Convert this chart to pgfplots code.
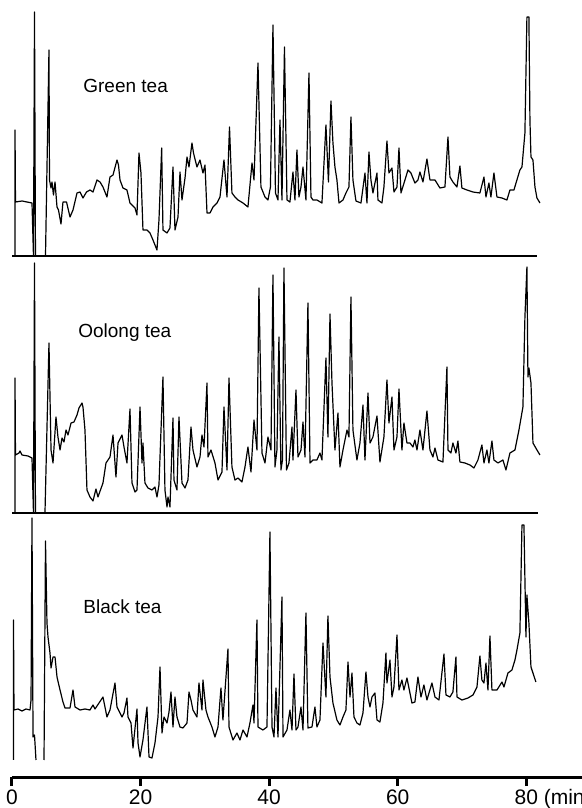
\documentclass[border=0pt]{standalone}
\usepackage{fontspec}
\setmainfont{Liberation Sans}
\usepackage{pgfplots}
\pgfplotsset{compat=1.18}

% three stacked chromatograms, detector response in arbitrary units
\pgfplotsset{
  chrom/.style={scale only axis, width=286.1pt, xmin=0, xmax=89,
    ymin=0, clip=false, anchor=south west},
  trace/.style={black, line width=0.6pt, line join=round, mark=none},
  base/.style={black, line width=1pt, mark=none},
}
\tikzset{lbl/.style={anchor=west, inner sep=0pt, font=\fontsize{9.5}{11}\selectfont}}

\begin{document}
\begin{tikzpicture}
\path[use as bounding box] (0,0) rectangle (291pt,404pt);

% ---------------- Green tea ----------------
\begin{axis}[chrom, hide axis, at={(6pt,276pt)}, height=128pt, ymax=256]
\addplot[base] coordinates {(0,0) (81.7,0)};
\addplot[trace] coordinates {
(0.47,0) (0.47,126) (0.54,54) (1.56,55) (3.11,53) (3.34,0) (3.50,244) (3.65,0)
(5.21,0) (5.75,206) (5.83,76) (6.07,68) (6.22,74) (6.45,61) (6.69,74) (7.00,49)
(7.23,46) (7.62,32) (7.93,54) (8.48,54) (9.02,39) (9.49,46) (10.11,63) (10.58,64)
(11.04,58) (11.59,64) (12.13,66) (12.6,64) (13.22,76) (13.69,74) (14.15,69) (14.77,59)
(15.24,79) (15.71,81) (16.33,96) (16.56,91) (16.80,76) (17.26,68) (17.88,66) (18.35,53)
(19.13,48) (19.44,41) (19.75,103) (20.06,83) (20.37,26) (20.99,26) (21.46,23) (21.93,16)
(22.55,6) (22.86,36) (23.28,108) (23.48,26) (24.11,23) (24.57,28) (25.04,89) (25.35,26)
(25.82,39) (26.13,84) (26.44,56) (26.91,78) (27.22,99) (27.53,89) (27.99,113) (28.23,103)
(28.77,89) (29.24,96) (29.70,83) (30.02,91) (30.33,43) (30.79,43) (31.26,49) (31.88,53)
(32.35,59) (32.97,96) (33.44,59) (33.83,129) (34.21,63) (34.68,59) (35.15,56) (35.93,53)
(36.70,49) (37.33,93) (37.64,76) (38.26,193) (38.72,69) (39.35,59) (39.81,56) (40.20,69)
(40.59,231) (40.98,63) (41.37,56) (41.68,136) (41.99,56) (42.38,209) (42.77,56) (43.23,54)
(43.70,84) (44.01,56) (44.32,106) (44.63,59) (44.95,69) (45.26,89) (45.72,56) (46.19,183)
(46.50,59) (46.81,56) (47.43,56) (48.21,53) (48.83,131) (49.22,74) (49.61,155) (49.92,113)
(50.23,89) (50.54,76) (50.86,53) (51.48,56) (51.94,63) (52.41,69) (52.72,139) (53.03,76)
(53.50,55) (54.28,53) (54.90,83) (55.21,53) (55.52,104) (55.83,76) (56.14,63) (56.77,83)
(56.92,56) (57.54,53) (57.85,69) (58.32,115) (58.63,83) (59.10,88) (59.41,64) (59.88,69)
(60.19,108) (60.50,63) (61.12,76) (61.59,86) (62.05,83) (62.67,73) (63.14,76) (63.45,84)
(63.92,74) (64.54,97) (65.01,76) (65.79,76) (66.56,68) (67.34,69) (67.81,119) (68.12,79)
(68.58,74) (69.21,69) (69.67,90) (69.98,68) (70.76,66) (71.69,64) (72.78,63) (73.41,79)
(73.72,59) (74.18,73) (74.49,59) (74.96,83) (75.43,59) (76.21,58) (76.98,56) (77.45,66)
(78.07,66) (79.00,86) (79.32,89) (79.78,123) (80.09,239) (80.40,239) (80.56,136) (80.72,99)
(81.03,96) (81.34,69) (81.65,58) (82.12,53)
};
\node[lbl] at (axis cs:11.04,170) {Green tea};
\end{axis}

% ---------------- Oolong tea ----------------
\begin{axis}[chrom, hide axis, at={(6pt,147.5pt)}, height=126pt, ymax=252]
\addplot[base] coordinates {(0,0) (81.8,0)};
\addplot[trace] coordinates {
(0.47,0) (0.47,135) (0.54,58) (1.09,60) (1.24,62) (1.56,58) (2.49,57) (3.11,55)
(3.34,0) (3.50,250) (3.65,0) (5.13,0) (5.75,170) (6.07,63) (6.38,50) (6.84,96)
(7.15,76) (7.47,63) (7.78,75) (8.09,71) (8.40,83) (8.71,78) (9.18,90) (9.64,91)
(10.11,98) (10.42,105) (10.89,110) (11.04,106) (11.35,83) (11.66,23) (12.13,16) (12.60,12)
(13.06,24) (13.37,16) (14.15,30) (14.62,50) (15.24,56) (15.71,78) (16.17,36) (16.49,70)
(17.11,78) (17.42,66) (17.88,50) (18.35,104) (18.66,30) (19.13,21) (19.44,23) (19.91,106)
(20.22,50) (20.37,70) (20.68,30) (21.15,25) (21.77,23) (22.24,26) (22.55,16) (22.86,28)
(23.48,136) (23.79,23) (24.11,6) (24.26,16) (24.57,6) (25.04,95) (25.19,33) (25.66,23)
(25.97,96) (26.44,30) (26.91,25) (27.37,33) (27.84,86) (28.15,63) (28.77,46) (29.24,56)
(29.55,78) (29.86,66) (30.33,130) (30.48,56) (30.95,63) (31.57,50) (32.04,33) (32.66,41)
(32.97,106) (33.44,43) (33.75,135) (34.21,46) (34.68,33) (35.15,35) (35.77,31) (36.24,46)
(36.70,66) (37.17,41) (37.64,93) (38.10,63) (38.41,225) (38.88,60) (39.35,50) (39.81,76)
(40.28,63) (40.59,238) (40.90,46) (41.21,63) (41.52,176) (41.83,43) (42.07,53) (42.30,245)
(42.69,43) (43.08,50) (43.55,86) (43.70,53) (44.17,123) (44.48,56) (44.95,63) (45.26,91)
(45.57,56) (46.03,210) (46.35,50) (46.81,53) (47.43,53) (47.90,60) (48.21,53) (48.83,155)
(49.14,76) (49.46,199) (49.77,130) (50.23,63) (50.70,100) (51.01,46) (51.48,63) (52.10,83)
(52.41,76) (52.72,216) (53.03,83) (53.65,53) (54.12,70) (54.59,108) (54.90,53) (55.37,120)
(55.68,70) (56.14,76) (56.77,97) (57.23,51) (57.85,76) (58.32,133) (58.63,90) (59.10,116)
(59.41,63) (59.88,76) (60.19,124) (60.65,63) (60.96,90) (61.43,70) (61.90,70) (62.36,66)
(62.67,73) (62.99,63) (63.45,83) (63.92,63) (64.54,102) (65.01,63) (65.47,56) (65.79,65)
(66.25,53) (67.03,51) (67.65,146) (67.81,63) (68.27,60) (68.58,70) (69.05,60) (69.36,72)
(69.67,51) (70.45,50) (71.23,48) (71.85,45) (72.47,53) (73.09,68) (73.41,50) (73.87,63)
(74.18,50) (74.65,72) (74.96,53) (75.58,50) (76.36,53) (76.83,43) (77.45,60) (78.23,63)
(78.85,83) (79.47,106) (79.78,196) (80.09,246) (80.25,136) (80.40,145) (80.72,130) (81.03,70)
(81.65,63) (82.12,58)
};
\node[lbl] at (axis cs:10.26,180) {Oolong tea};
\end{axis}

% ---------------- Black tea ----------------
\begin{axis}[chrom, at={(6pt,15.5pt)}, height=131pt, ymax=262,
  axis x line=bottom, hide y axis,
  x axis line style={-, line width=1.5pt},
  xtick={0,20,40,60,80}, xticklabels={0,20,40,60,80\rlap{\ (min)}},
  tick align=outside, major tick length=4.5pt,
  tick style={black, line width=1.5pt},
  xticklabel style={font=\fontsize{10.5}{12}\selectfont, inner sep=1.5pt},
  /pgf/number format/assume math mode=true,
  unbounded coords=jump]
\addplot[trace] coordinates {
(0.23,17) (0.23,157) (0.31,67) (0.93,68) (1.56,66) (2.18,68) (2.80,67) (2.96,77)
(3.11,259) (3.27,40) (3.50,42) (3.73,17) (3.8,nan)
(4.98,17) (5.21,236) (5.44,154) (5.60,140) (5.91,124) (6.07,109) (6.38,120) (6.69,120)
(7.00,100) (7.47,87) (7.93,75) (8.24,69) (9.02,69) (9.49,87) (9.80,70) (10.58,67)
(11.35,68) (12.13,67) (12.60,72) (12.91,68) (13.53,74) (14.15,80) (14.77,60) (15.24,67)
(16.02,94) (16.33,70) (17.11,60) (17.42,64) (17.88,79) (18.04,60) (18.51,54) (18.82,29)
(19.44,68) (19.60,34) (19.91,20) (20.37,37) (20.99,70) (21.31,20) (21.77,19) (22.24,34)
(22.71,60) (23.02,110) (23.33,44) (23.64,60) (24.11,54) (24.42,65) (24.73,85) (25.04,50)
(25.35,80) (25.66,60) (26.13,50) (26.59,49) (27.22,54) (27.53,85) (27.84,77) (28.15,67)
(28.77,60) (29.08,94) (29.55,67) (29.70,97) (30.17,67) (30.48,60) (31.10,50) (31.57,40)
(32.04,50) (32.50,89) (32.81,57) (33.59,128) (33.75,50) (34.37,37) (34.99,44) (35.46,37)
(35.93,47) (36.55,40) (37.01,54) (37.48,72) (37.64,54) (38.10,157) (38.26,50) (39.04,47)
(39.66,50) (40.12,245) (40.44,50) (40.75,40) (41.06,89) (41.37,40) (41.99,180) (42.15,40)
(42.77,47) (43.23,67) (43.55,47) (43.86,103) (44.17,47) (44.48,50) (44.95,70) (45.26,47)
(45.72,164) (46.03,49) (46.66,50) (47.12,70) (47.43,50) (47.90,57) (48.37,134) (48.83,80)
(49.14,161) (49.46,100) (49.92,74) (50.54,57) (51.01,52) (51.48,60) (51.94,67) (52.26,115)
(52.57,80) (52.88,104) (53.19,60) (53.65,54) (54.12,52) (54.59,64) (55.05,105) (55.37,80)
(55.68,70) (55.99,80) (56.45,84) (56.77,57) (57.23,55) (57.70,74) (58.16,124) (58.32,94)
(58.79,117) (59.10,80) (59.41,90) (59.88,142) (60.19,87) (60.65,97) (60.96,87) (61.43,99)
(62.21,74) (62.67,75) (63.14,100) (63.61,80) (64.07,92) (64.54,77) (65.32,94) (65.79,80)
(66.41,77) (67.19,123) (67.50,82) (68.12,80) (68.58,85) (69.05,120) (69.21,80) (69.98,77)
(70.92,79) (71.70,82) (72.32,90) (72.78,121) (73.09,97) (73.41,94) (73.72,114) (74.03,87)
(74.34,141) (74.65,87) (75.43,87) (76.21,95) (76.52,90) (77.14,104) (77.76,107) (78.23,117)
(78.54,127) (79.00,144) (79.32,252) (79.63,252) (79.94,140) (80.09,182) (80.40,154) (80.72,110)
(81.03,104) (81.49,95)
};
\node[lbl] at (axis cs:11.04,170) {Black tea};
\end{axis}
\end{tikzpicture}
\end{document}
